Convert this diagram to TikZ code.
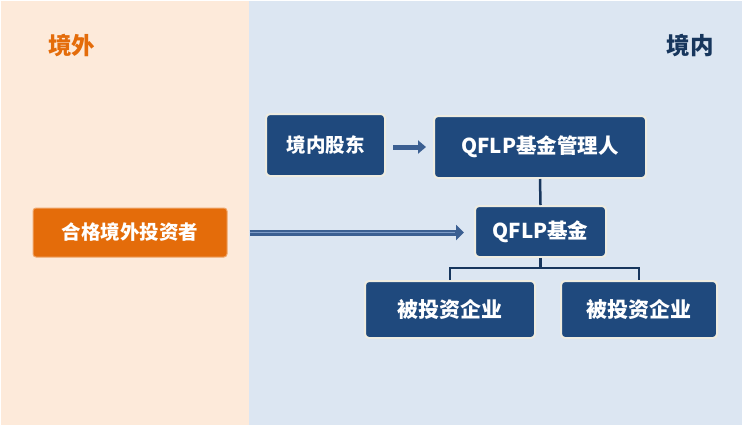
\documentclass[tikz,border=0pt]{standalone}
\usepackage{fontspec}
\setmainfont{Noto Sans CJK SC}
\usetikzlibrary{arrows.meta}
\definecolor{peach}{HTML}{FDEADA}
\definecolor{paleblue}{HTML}{DCE6F2}
\definecolor{boxblue}{HTML}{1F497D}
\definecolor{cream}{HTML}{EEECE1}
\definecolor{orng}{HTML}{E46C0A}
\definecolor{navy}{HTML}{17365D}
\definecolor{arrowblue}{HTML}{3B5F92}
\definecolor{innerblue}{HTML}{7E9CC8}
\begin{document}
\begin{tikzpicture}[x=1pt,y=-1pt,
  bluebox/.style={draw=cream,line width=2pt,fill=boxblue,rounded corners=4pt,
    text=white,font=\bfseries\fontsize{19.5}{22}\selectfont,inner sep=0pt,anchor=center},
  orangebox/.style={draw=orng!60!white,line width=1pt,fill=orng,rounded corners=3pt,
    text=white,font=\bfseries\fontsize{19.5}{22}\selectfont,inner sep=0pt},
  treeline/.style={draw=navy,line width=2.5pt}]
\useasboundingbox (0,0) rectangle (743,426);
\fill[white] (0,0) rectangle (743,426);
\fill[peach] (1,1) rectangle (249,425);
\fill[paleblue] (249,1) rectangle (742,425);
\node[text=orng,font=\bfseries\fontsize{23.5}{26}\selectfont] (outside) at (71.5,45) {境外};
\node[text=navy,font=\bfseries\fontsize{23.5}{26}\selectfont] (inside) at (690,45) {境内};
\node[bluebox,minimum width=119pt,minimum height=62pt] (gudong) at (325.5,145) {境内股东};
\node[bluebox,minimum width=212pt,minimum height=62pt,font=\bfseries\fontsize{20.5}{24}\selectfont] (manager) at (540,147) {QFLP基金管理人};
\node[bluebox,minimum width=131pt,minimum height=51pt,font=\bfseries\fontsize{20.5}{24}\selectfont] (fund) at (540.5,231.5) {QFLP基金};
\node[orangebox,minimum width=194pt,minimum height=49pt] (investor) at (130,232.5) {合格境外投资者};
\node[bluebox,minimum width=170pt,minimum height=57pt,font=\bfseries\fontsize{21}{24}\selectfont] (e1) at (450,309.5) {被投资企业};
\node[bluebox,minimum width=156pt,minimum height=57pt,font=\bfseries\fontsize{21}{24}\selectfont] (e2) at (639,309.5) {被投资企业};
% arrows
\draw[arrowblue,line width=5pt,-{Triangle[length=8pt,width=13pt]},shorten <=7pt,shorten >=7pt]
  (gudong.east |- manager.west) -- (manager.west);
\draw[arrowblue,line width=6pt,-{Triangle[length=8pt,width=15pt]},shorten <=22pt,shorten >=10pt]
  (investor.east) -- (investor.east -| fund.west);
\draw[innerblue,line width=1.2pt,shorten <=22pt,shorten >=19pt]
  (investor.east) -- (investor.east -| fund.west);
% tree
\draw[treeline] (manager.south) -- (fund.north);
\draw[treeline] (e1.north) -- ++(0,-12) coordinate (tl) -| (e2.north);
\draw[treeline] (fund.south) -- (fund.south |- tl);
\end{tikzpicture}
\end{document}
